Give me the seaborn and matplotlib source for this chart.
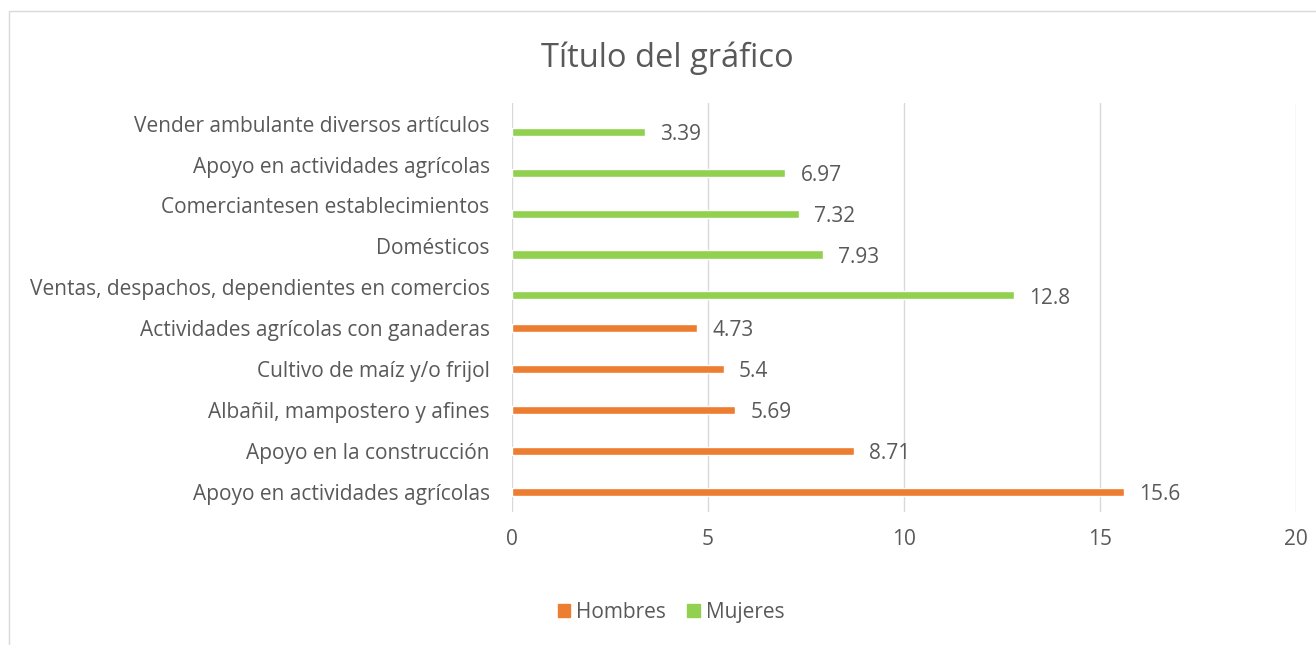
import matplotlib
matplotlib.use("Agg")
import matplotlib.pyplot as plt
import seaborn as sns
import pandas as pd
from matplotlib.patches import Rectangle

# categories top to bottom
categorias = [
    "Vender ambulante diversos artículos",
    "Apoyo en actividades agrícolas",
    "Comerciantesen establecimientos",
    "Domésticos",
    "Ventas, despachos, dependientes en comercios",
    "Actividades agrícolas con ganaderas",
    "Cultivo de maíz y/o frijol",
    "Albañil, mampostero y afines",
    "Apoyo en la construcción",
    "Apoyo en actividades agrícolas",
]
valores = [3.39, 6.97, 7.32, 7.93, 12.8, 4.73, 5.4, 5.69, 8.71, 15.6]
grupo = ["Mujeres"] * 5 + ["Hombres"] * 5

colores = {"Hombres": "#ED7D31", "Mujeres": "#92D050"}
gris = "#595959"

df = pd.DataFrame({
    "id": [str(i) for i in range(len(categorias))],
    "valor": valores,
    "grupo": grupo,
})

sns.set_style("white")
plt.rcParams["font.family"] = ["Open Sans", "DejaVu Sans"]

fig = plt.figure(figsize=(13.16, 6.45), dpi=100)
ax = fig.add_axes([0.389, 0.206, 0.596, 0.634])

# clustered like Excel: two series per category, each bar 0.2 thick
sns.barplot(data=df, x="valor", y="id", hue="grupo", orient="h",
            order=df["id"].tolist(), hue_order=["Hombres", "Mujeres"],
            palette=colores, dodge=True, width=0.4, saturation=1,
            ax=ax, legend=False)

n = len(categorias)
ax.set_ylim(n - 0.5 - 0.1, -0.5 - 0.1)
ax.set_yticks([i - 0.1 for i in range(n)])
ax.set_yticklabels(categorias)
ax.set_xlim(0, 20)
ax.set_xticks([0, 5, 10, 15, 20])
ax.tick_params(axis="both", length=0, colors=gris, labelsize=15)
ax.tick_params(axis="x", pad=12)
ax.tick_params(axis="y", pad=16)
ax.xaxis.grid(True, color="#d9d9d9", linewidth=1)
ax.set_axisbelow(True)
for s in ax.spines.values():
    s.set_visible(False)
ax.set_xlabel("")
ax.set_ylabel("")

for p in ax.patches:
    w = p.get_width()
    if w <= 0:
        continue
    yc = p.get_y() + p.get_height() / 2
    ax.annotate(f"{w:g}", (w, yc), xytext=(11, -2), textcoords="offset points",
                va="center", ha="left", fontsize=15, color=gris)

fig.text(0.507, 0.91, "Título del gráfico", ha="center", va="center",
         fontsize=23.5, color=gris)

handles = [Rectangle((0, 0), 1, 1, color=colores["Hombres"]),
           Rectangle((0, 0), 1, 1, color=colores["Mujeres"])]
fig.legend(handles, ["Hombres", "Mujeres"], loc="center", ncol=2,
           bbox_to_anchor=(0.51, 0.051), frameon=False, fontsize=15,
           labelcolor=gris, handlelength=0.6, handleheight=0.6,
           handletextpad=0.3, columnspacing=1.0)

fig.patches.append(Rectangle((9 / 1316, -0.1), 1.2, 1.1 - 11 / 645,
                             transform=fig.transFigure, fill=False,
                             edgecolor="#d9d9d9", linewidth=1))

fig.savefig("out.png", dpi=100)
